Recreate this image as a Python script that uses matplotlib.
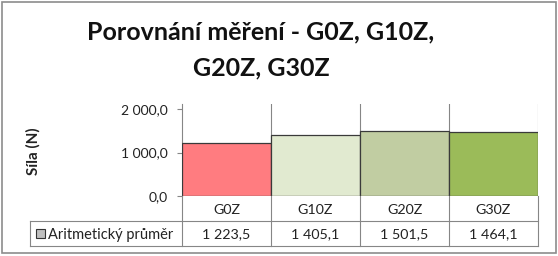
import matplotlib
matplotlib.use("Agg")
import matplotlib.pyplot as plt
from matplotlib.patches import Rectangle
from matplotlib.lines import Line2D

categories = ["G0Z", "G10Z", "G20Z", "G30Z"]
values = [1223.5, 1405.1, 1501.5, 1464.1]
value_labels = ["1 223,5", "1 405,1", "1 501,5", "1 464,1"]
yticks = [0, 1000, 2000]
ytick_labels = ["0,0", "1 000,0", "2 000,0"]
colors = ["#FF7C80", "#E1EAD0", "#C1CDA2", "#9BBB59"]
series_name = "Aritmetický průměr"
title = "Porovnání měření - G0Z, G10Z,\nG20Z, G30Z"
ylabel = "Síla (N)"

plt.rcParams['font.family'] = ['Lato', 'DejaVu Sans']
W, H = 558, 256
fig = plt.figure(figsize=(W/100, H/100), dpi=100)

def fx(px): return px / W
def fy(py): return 1 - py / H

L, R, T, B = 182, 538, 104, 196
ax = fig.add_axes([fx(L), fy(B), fx(R) - fx(L), fy(T) - fy(B)])
x = list(range(len(categories)))
ax.bar(x, values, width=1.0, color=colors, edgecolor="#3a3a3a", linewidth=0.9, zorder=3)
ax.set_xlim(-0.5, len(categories) - 0.5)
ax.set_ylim(0, 2000 * (B - T) / (B - 109))
ax.set_yticks(yticks)
ax.set_yticklabels(ytick_labels, fontsize=10, color="#222222")
ax.set_xticks([])
for s in ["top", "right", "bottom"]:
    ax.spines[s].set_visible(False)
ax.spines["left"].set_color("#868686")
ax.tick_params(axis="y", length=3.6, color="#868686", pad=7)
for b in range(1, len(categories) + 1):
    ax.axvline(b - 0.5, color="#868686", linewidth=0.8, zorder=2)
ax.axhline(0, color="#868686", linewidth=0.8, zorder=4)

# table
gc = "#868686"
r1, r2 = 221, 246
LL = 30
bounds = [L + (R - L) * i / len(categories) for i in range(len(categories) + 1)]
lines = [
    ((LL, R), (r1, r1)), ((LL, R), (r2, r2)),
    ((LL, LL), (r1, r2)),
]
for bx in bounds:
    lines.append(((bx, bx), (B, r2)))
for (xs, ys) in lines:
    fig.add_artist(Line2D([fx(v) for v in xs], [fy(v) for v in ys], color=gc, linewidth=0.8))

for i, c in enumerate(categories):
    cx = (bounds[i] + bounds[i + 1]) / 2
    fig.text(fx(cx), fy((B + r1) / 2 + 1), c, ha="center", va="center", fontsize=10.3, color="#222222")
    fig.text(fx(cx), fy((r1 + r2) / 2 + 1), value_labels[i], ha="center", va="center", fontsize=10.3, color="#222222")

fig.add_artist(Rectangle((fx(35.5), fy(237.5)), fx(9), fy(229) - fy(237.5), facecolor="#BFBFBF",
                         edgecolor="#333333", linewidth=0.8))
fig.text(fx(47.5), fy((r1 + r2) / 2 + 1), series_name, ha="left", va="center", fontsize=10.5, color="#222222")

fig.text(fx(33), fy(151), ylabel, rotation=90, ha="center", va="center", fontsize=11,
         fontweight="bold", color="#222222")
fig.text(fx(261), fy(50), title, ha="center", va="center", fontsize=18, fontweight="bold",
         linespacing=1.7, color="#111111")

fig.add_artist(Rectangle((fx(1.5), fy(253)), fx(554), fy(1.5) - fy(253), facecolor="none",
                         edgecolor="#8c8c8c", linewidth=1.2))

fig.savefig("out.png", dpi=100)
